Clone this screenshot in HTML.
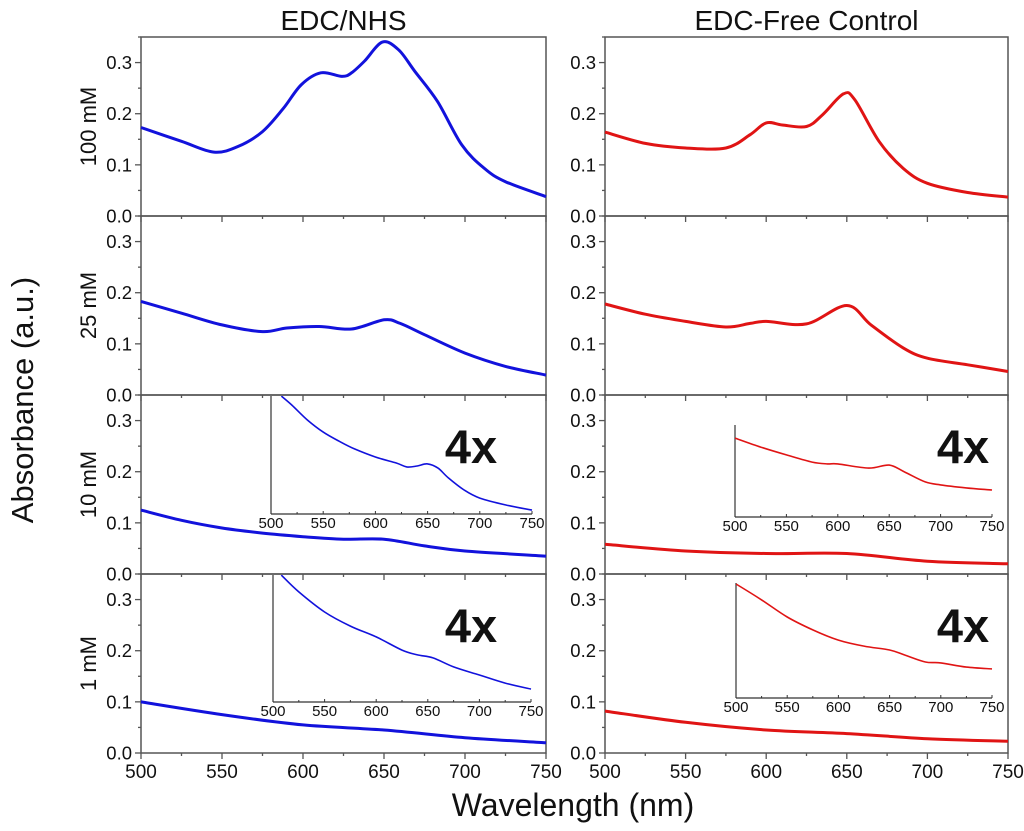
<!DOCTYPE html>
<html><head><meta charset="utf-8"><style>
html,body{margin:0;padding:0;background:#fff}
svg{display:block}
text{font-family:"Liberation Sans",Arial,sans-serif;fill:#111}
</style></head><body>
<svg id="chart" width="1024" height="831" viewBox="0 0 1024 831" xmlns="http://www.w3.org/2000/svg"></svg>
<script>
// ---- data ----
const wavelengthTicks = [500, 550, 600, 650, 700, 750];
const absTicks = ["0.0", "0.1", "0.2", "0.3"];
const columnTitles = ["EDC/NHS", "EDC-Free Control"];
const rowLabels = ["100 mM", "25 mM", "10 mM", "1 mM"];

const edc100X = [500,525,545,560,575,588,599,611,624,630,638,649,659,669,683,698,712,725,750];
const edc100Y = [0.173,0.146,0.125,0.136,0.165,0.211,0.257,0.280,0.273,0.280,0.303,0.340,0.325,0.283,0.224,0.139,0.093,0.067,0.038];
const edc25X = [500,525,550,575,590,610,630,650,660,675,700,725,750];
const edc25Y = [0.183,0.160,0.137,0.124,0.131,0.134,0.129,0.147,0.140,0.118,0.082,0.056,0.039];
const edc10X = [500,525,550,575,600,625,650,675,700,750];
const edc10Y = [0.125,0.105,0.090,0.080,0.073,0.068,0.068,0.055,0.045,0.035];
const edc1X = [500,550,600,650,700,750];
const edc1Y = [0.100,0.075,0.055,0.045,0.030,0.020];

const free100X = [500,525,550,575,590,600,610,625,635,648,655,670,685,700,725,750];
const free100Y = [0.164,0.142,0.133,0.133,0.159,0.182,0.178,0.175,0.198,0.239,0.227,0.146,0.093,0.064,0.046,0.037];
const free25X = [500,525,550,575,590,600,625,650,665,685,700,725,750];
const free25Y = [0.178,0.158,0.144,0.133,0.140,0.144,0.139,0.175,0.137,0.092,0.072,0.059,0.046];
const free10X = [500,550,600,650,700,750];
const free10Y = [0.058,0.045,0.040,0.040,0.025,0.020];
const free1X = [500,550,600,650,700,750];
const free1Y = [0.082,0.060,0.045,0.038,0.028,0.023];

// inset (4x) series
const insetEdc10X = [510,520,535,550,565,580,600,620,630,640,650,660,670,685,700,725,750];
const insetEdc10Y = [0.493,0.463,0.413,0.373,0.343,0.317,0.290,0.270,0.257,0.260,0.267,0.253,0.220,0.180,0.153,0.130,0.113];
const insetEdc1X = [508,525,550,575,600,625,640,655,675,700,725,750];
const insetEdc1Y = [0.523,0.467,0.400,0.353,0.317,0.273,0.257,0.247,0.217,0.190,0.163,0.143];
const insetFree10X = [500,525,550,575,590,600,630,650,665,685,700,725,750];
const insetFree10Y = [0.363,0.333,0.307,0.283,0.277,0.277,0.263,0.273,0.250,0.217,0.207,0.197,0.190];
const insetFree1X = [500,525,550,575,600,625,650,665,685,700,725,750];
const insetFree1Y = [0.480,0.427,0.370,0.327,0.293,0.273,0.260,0.243,0.220,0.217,0.203,0.197];
const insetTicks = [500, 550, 600, 650, 700, 750];

// ---- layout ----
const NS = "http://www.w3.org/2000/svg";
const svg = document.getElementById("chart");
const cols = [{x0:141, x1:546}, {x0:605, x1:1008}];
const rowBottoms = [216, 395, 574, 753];
const rowH = 179; // 0 -> 0.35
const blue = "#1212dc", red = "#e01414";

function el(tag, attrs, parent) {
  const e = document.createElementNS(NS, tag);
  for (const k in attrs) e.setAttribute(k, attrs[k]);
  (parent || svg).appendChild(e);
  return e;
}
function xScale(c, w) { return cols[c].x0 + (w - 500) / 250 * (cols[c].x1 - cols[c].x0); }
function yScale(r, v) { return rowBottoms[r] - v / 0.35 * rowH; }
function smoothPath(pts) {
  let d = "M" + pts[0][0].toFixed(1) + "," + pts[0][1].toFixed(1);
  for (let i = 0; i < pts.length - 1; i++) {
    const p0 = pts[Math.max(0, i - 1)], p1 = pts[i], p2 = pts[i + 1], p3 = pts[Math.min(pts.length - 1, i + 2)];
    const c1x = p1[0] + (p2[0] - p0[0]) / 6, c1y = p1[1] + (p2[1] - p0[1]) / 6;
    const c2x = p2[0] - (p3[0] - p1[0]) / 6, c2y = p2[1] - (p3[1] - p1[1]) / 6;
    d += " C" + c1x.toFixed(1) + "," + c1y.toFixed(1) + " " + c2x.toFixed(1) + "," + c2y.toFixed(1) + " " + p2[0].toFixed(1) + "," + p2[1].toFixed(1);
  }
  return d;
}

// titles
columnTitles.forEach((t, c) => {
  const tt = el("text", {x: (cols[c].x0 + cols[c].x1) / 2, y: 30, "font-size": 28, "text-anchor": "middle"});
  tt.textContent = t;
  
  
});
const yt = el("text", {x: 0, y: 0, "font-size": 31, "text-anchor": "middle", transform: "translate(33,400) rotate(-90)"});
yt.textContent = "Absorbance (a.u.)";


const xt = el("text", {x: 573, y: 816, "font-size": 32, "text-anchor": "middle"});
xt.textContent = "Wavelength (nm)";



rowLabels.forEach((t, r) => {
  const cy = rowBottoms[r] - rowH / 2;
  const lt = el("text", {x: 0, y: 0, "font-size": 22, "text-anchor": "middle", transform: "translate(96," + cy + ") rotate(-90)"});
  lt.textContent = t;
  
  
});

const series = [
  [[edc100X, edc100Y], [edc25X, edc25Y], [edc10X, edc10Y], [edc1X, edc1Y]],
  [[free100X, free100Y], [free25X, free25Y], [free10X, free10Y], [free1X, free1Y]]
];
const insets = [
  {c:0, r:2, xs:insetEdc10X, ys:insetEdc10Y, x0:271, x1:532, bottom:514, top:396, color:blue},
  {c:0, r:3, xs:insetEdc1X, ys:insetEdc1Y, x0:273, x1:531, bottom:702, top:575, color:blue},
  {c:1, r:2, xs:insetFree10X, ys:insetFree10Y, x0:735, x1:992, bottom:517, top:425, color:red},
  {c:1, r:3, xs:insetFree1X, ys:insetFree1Y, x0:736, x1:992, bottom:698, top:583, color:red}
];

for (let c = 0; c < 2; c++) {
  for (let r = 0; r < 4; r++) {
    const g = el("g", {});
    
    
    const x0 = cols[c].x0, x1 = cols[c].x1, yb = rowBottoms[r], ytop = yb - rowH;
    el("rect", {x: x0, y: ytop, width: x1 - x0, height: rowH, fill: "none", stroke: "#555", "stroke-width": 1.5}, g);
    for (let i = 0; i <= 7; i++) {
      const v = i * 0.05, y = yScale(r, v);
      const major = i % 2 === 0;
      el("line", {x1: x0, x2: x0 - (major ? 6 : 3), y1: y, y2: y, stroke: "#555", "stroke-width": 1.3}, g);
    }
    absTicks.forEach((t, i) => {
      const lab = el("text", {x: x0 - 9, y: yScale(r, i * 0.1) + 6.5, "font-size": 18.5, "text-anchor": "end"}, g);
      lab.textContent = t;
      
      
    });
    for (let w = 500; w <= 750; w += 25) {
      const x = xScale(c, w), major = w % 50 === 0;
      el("line", {x1: x, x2: x, y1: yb, y2: yb + (major ? 6 : 3), stroke: "#555", "stroke-width": 1.3}, g);
    }
    if (r === 3) {
      wavelengthTicks.forEach(w => {
        const lab = el("text", {x: xScale(c, w), y: 778, "font-size": 19, "text-anchor": "middle"}, g);
        lab.textContent = w;
        
        
      });
    }
    const [xs, ys] = series[c][r];
    const pts = xs.map((w, i) => [xScale(c, w), yScale(r, ys[i])]);
    const p = el("path", {d: smoothPath(pts), fill: "none", stroke: c === 0 ? blue : red, "stroke-width": 3, "stroke-linejoin": "round"}, g);
    
    
  }
}

insets.forEach(ins => {
  const g = el("g", {});
  
  
  const ix = w => ins.x0 + (w - 500) / 250 * (ins.x1 - ins.x0);
  const iy = v => ins.bottom - (v - 0.1) * 300;
  el("line", {x1: ins.x0, x2: ins.x0, y1: ins.top, y2: ins.bottom, stroke: "#333", "stroke-width": 1.2}, g);
  el("line", {x1: ins.x0, x2: ins.x1, y1: ins.bottom, y2: ins.bottom, stroke: "#333", "stroke-width": 1.2}, g);
  for (let w = 500; w <= 750; w += 25) {
    el("line", {x1: ix(w), x2: ix(w), y1: ins.bottom, y2: ins.bottom - (w % 50 === 0 ? 3 : 2), stroke: "#333", "stroke-width": 1}, g);
  }
  insetTicks.forEach(w => {
    const lab = el("text", {x: ix(w), y: ins.bottom + 14, "font-size": 15, "text-anchor": "middle"}, g);
    lab.textContent = w;
    
    
  });
  const clipId = "clip" + ins.c + ins.r;
  const cp = el("clipPath", {id: clipId}, g);
  el("rect", {x: ins.x0, y: ins.top, width: ins.x1 - ins.x0 + 4, height: ins.bottom - ins.top}, cp);
  const pts = ins.xs.map((w, i) => [ix(w), iy(ins.ys[i])]);
  const p = el("path", {d: smoothPath(pts), fill: "none", stroke: ins.color, "stroke-width": 1.6, "clip-path": "url(#" + clipId + ")"}, g);
  
  
  const lbl = el("text", {x: ins.c === 0 ? 471 : 963, y: ins.r === 2 ? 463 : 642, "font-size": 47, "font-weight": "bold", "text-anchor": "middle"}, g);
  lbl.textContent = "4x";
  
  
});
</script>
</body></html>
